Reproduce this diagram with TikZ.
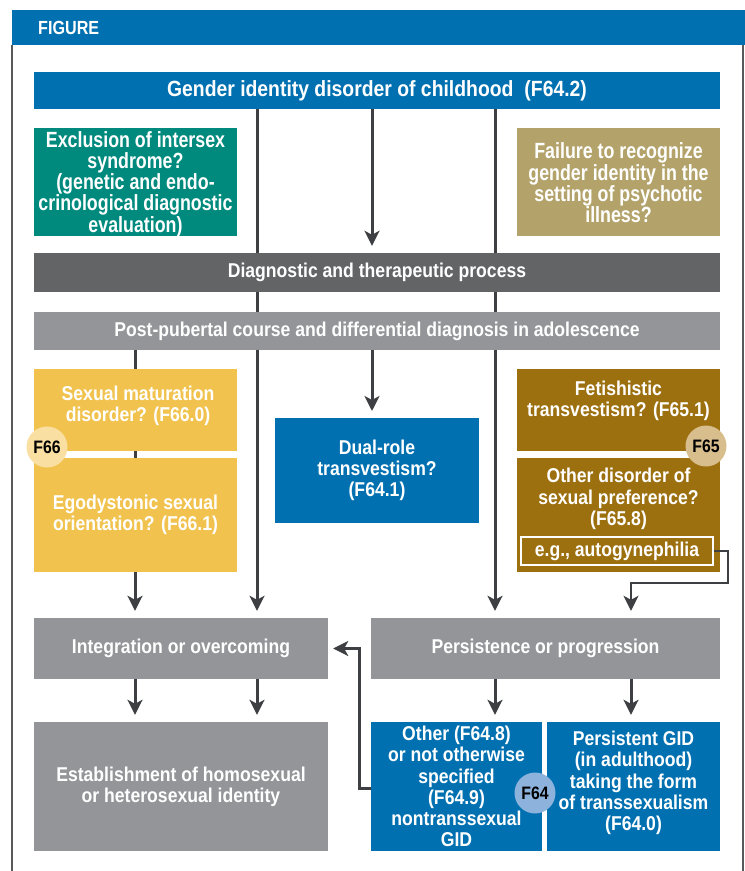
\documentclass[tikz,border=0pt]{standalone}
\usepackage{fontspec}
\newfontfamily\cond{Liberation Sans}[FakeStretch=0.88]
\newfontfamily\condn{Liberation Sans}[FakeStretch=0.81]
\newfontfamily\condf{Liberation Sans}[FakeStretch=0.85]
\usetikzlibrary{arrows.meta}
\definecolor{bandblue}{HTML}{0070B0}
\definecolor{tealc}{HTML}{008A7E}
\definecolor{khakic}{HTML}{B3A36B}
\definecolor{dgray}{HTML}{636466}
\definecolor{lgray}{HTML}{939598}
\definecolor{yel}{HTML}{F1C34E}
\definecolor{brownc}{HTML}{9C6F0F}
\definecolor{circA}{HTML}{F9DFA2}
\definecolor{circB}{HTML}{D8BD8D}
\definecolor{circC}{HTML}{8DB3DD}
\definecolor{arrc}{HTML}{3D3F42}
\definecolor{framec}{HTML}{58595B}
\tikzset{
  box/.style={draw=none, inner sep=0pt, align=center, text=white,
    font=\cond\bfseries\fontsize{20}{21.3}\selectfont},
  bigbox/.style={box, font=\cond\bfseries\fontsize{22}{21.3}\selectfont},
  sidebox/.style={box, font=\condn\bfseries\fontsize{22}{21.3}\selectfont},
  txt/.style={inner sep=0pt, align=center, text=white,
    font=\cond\bfseries\fontsize{20}{21.3}\selectfont},
  badge/.style={circle, minimum size=41pt, inner sep=0pt, text=black,
    font=\cond\bfseries\fontsize{18}{20}\selectfont},
  arr/.style={draw=arrc, line width=3pt, -{Stealth[length=15pt,width=15pt,inset=4pt]}, shorten >=7pt},
}
\begin{document}
\begin{tikzpicture}[x=1pt,y=-1pt]
\useasboundingbox (0,0) rectangle (745,871);
% frame and band
\draw[framec, line width=1.5pt] (12,45) -- (12,871);
\draw[framec, line width=1.5pt] (743,45) -- (743,871);
\fill[bandblue] (12,10) rectangle (745,45);
\node[anchor=west, inner sep=0pt, text=white, font=\condf\bfseries\fontsize{19}{20}\selectfont] (fig) at (38,28) {FIGURE};
% column coordinates
\coordinate (c1) at (135,0);
\coordinate (c2) at (257,0);
\coordinate (c3) at (372,0);
\coordinate (c4) at (495,0);
\coordinate (c5) at (631,0);
% nodes
\node[bigbox, fill=bandblue, minimum width=686pt, minimum height=37pt] (title) at (377,90.5) {Gender identity disorder of childhood\enspace(F64.2)};
\node[box, fill=dgray, minimum width=686pt, minimum height=39pt] (diag) at (377,272.5) {Diagnostic and therapeutic process};
\node[box, fill=lgray, minimum width=686pt, minimum height=38pt] (post) at (377,331) {Post-pubertal course and differential diagnosis in adolescence};
\node[box, fill=lgray, minimum width=294pt, minimum height=61pt] (integ) at (181,648.5) {Integration or overcoming};
\node[box, fill=lgray, minimum width=349pt, minimum height=61pt] (persist) at (545.5,648.5) {Persistence or progression};
% connectors (behind boxes)
\draw[arr] (title.south -| c2) -- (integ.north -| c2);
\draw[arr] (title.south -| c4) -- (persist.north -| c4);
\draw[arr] (title.south -| c3) -- (diag.north -| c3);
\draw[arr] (post.south -| c1) -- (integ.north -| c1);
% redraw boxes on top
\node[bigbox, fill=bandblue, minimum width=686pt, minimum height=37pt] at (title) {Gender identity disorder of childhood\enspace(F64.2)};
\node[box, fill=dgray, minimum width=686pt, minimum height=39pt] at (diag) {Diagnostic and therapeutic process};
\node[box, fill=lgray, minimum width=686pt, minimum height=38pt] at (post) {Post-pubertal course and differential diagnosis in adolescence};
\node[box, fill=tealc, minimum width=203pt, minimum height=108pt] (excl) at (135.5,182) {};
\node[sidebox] (exclt) at (135.5,184) {Exclusion of intersex\\syndrome?\\(genetic and endo-\\crinological diagnostic\\evaluation)};
\node[box, fill=khakic, minimum width=203pt, minimum height=108pt] (fail) at (618.5,182) {};
\node[sidebox] (failt) at (618.5,183) {Failure to recognize\\gender identity in the\\setting of psychotic\\illness?};
\node[box, fill=yel, minimum width=203pt, minimum height=82pt] (sexm) at (135.5,410) {};
\node[txt] (sexmt) at (138,406) {Sexual maturation\\disorder? (F66.0)};
\node[box, fill=yel, minimum width=203pt, minimum height=114pt] (ego) at (135.5,515) {Egodystonic sexual\\orientation? (F66.1)};
\node[badge, fill=circA] (f66) at (47,447) {F66};
\draw[arr] (post.south -| c3) -- (c3 |- 418,418);
\node[box, fill=bandblue, minimum width=204pt, minimum height=105pt] (dual) at (377,470.5) {Dual-role\\transvestism?\\(F64.1)};
\node[box, fill=brownc, minimum width=203pt, minimum height=82pt] (fet) at (618.5,410) {};
\node[txt] (fett) at (618.5,401) {Fetishistic\\transvestism? (F65.1)};
\node[box, fill=brownc, minimum width=203pt, minimum height=114pt] (othd) at (618.5,515) {};
\node[txt] (othdt) at (618.5,499) {Other disorder of\\sexual preference?\\(F65.8)};
\node[box, draw=white, line width=1.5pt, minimum width=192pt, minimum height=28pt] (autog) at (617,551) {e.g., autogynephilia};
\node[badge, fill=circB] (f65) at (706,446) {F65};
\coordinate (k1) at (728,583);
\coordinate (k2) at (631,583);
\draw[draw=arrc, line width=2.5pt, -{Stealth[length=15pt,width=15pt,inset=4pt]}, shorten >=7pt] (autog.east) -| (k1) -- (k2) -- (k2 |- persist.north);
% bottom row
\node[box, fill=lgray, minimum width=294pt, minimum height=129pt] (estab) at (181,786.5) {Establishment of homosexual\\or heterosexual identity};
\node[box, fill=bandblue, minimum width=171pt, minimum height=129pt] (other) at (456.5,786.5) {Other (F64.8)\\or not otherwise\\specified\\(F64.9)\\nontranssexual\\GID};
\node[box, fill=bandblue, minimum width=173pt, minimum height=129pt] (pgid) at (633.5,786.5) {};
\node[txt] (pgidt) at (633.5,783) {Persistent GID\\(in adulthood)\\taking the form\\of transsexualism\\(F64.0)};
\node[badge, fill=circC] (f64) at (535,793) {F64};
\draw[arr] (integ.south -| c1) -- (estab.north -| c1);
\draw[arr] (integ.south -| c2) -- (estab.north -| c2);
\draw[arr] (persist.south -| c4) -- (other.north -| c4);
\draw[arr] (persist.south -| c5) -- (pgid.north -| c5);
\coordinate (k3) at (359,788);
\draw[arr, shorten >=5pt] (other.west |- k3) -- (k3) |- (integ.east);
\end{tikzpicture}
\end{document}
